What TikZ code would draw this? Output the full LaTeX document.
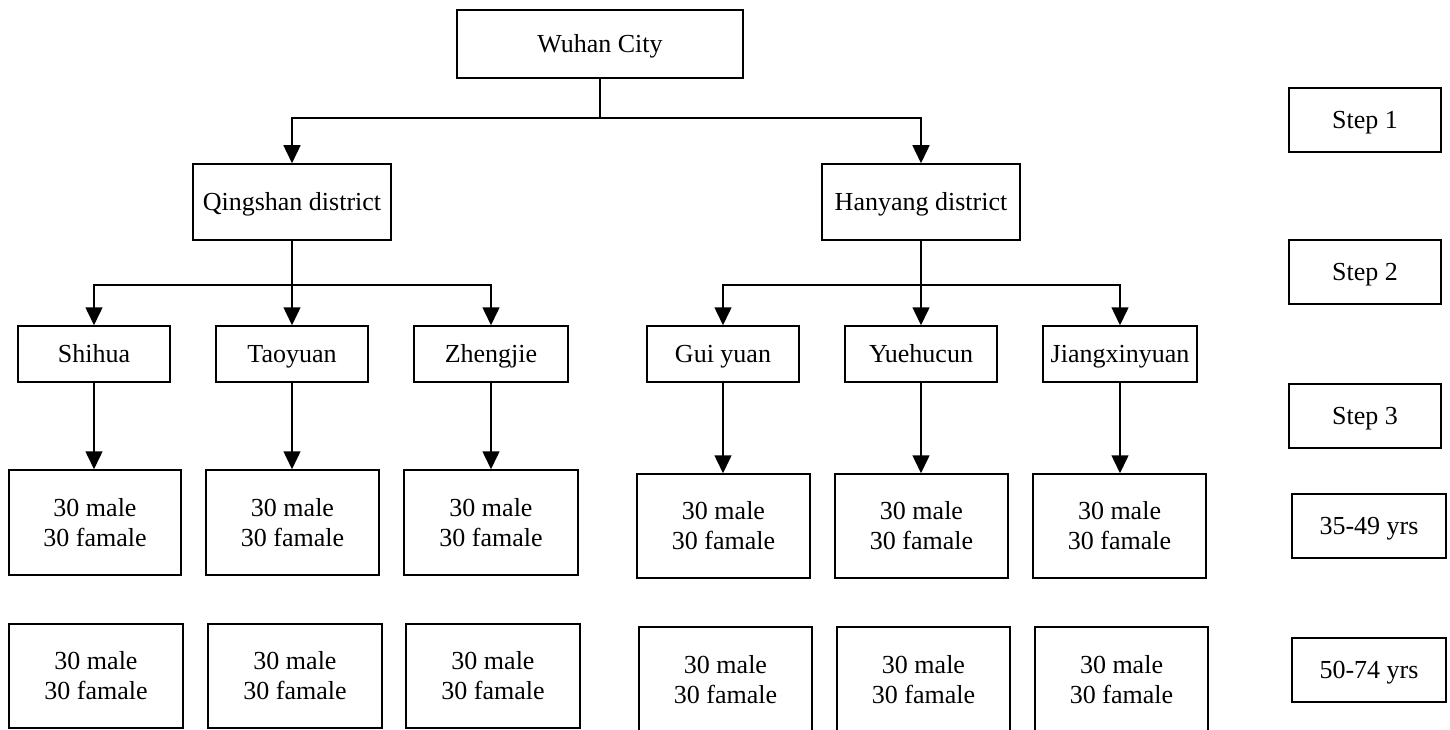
\documentclass[tikz,border=0pt]{standalone}
\usepackage{fontspec}
\setmainfont{Liberation Serif}
\usetikzlibrary{arrows.meta}
\begin{document}
\begin{tikzpicture}[x=1pt,y=-1pt,
  box/.style={draw, line width=1.5pt, inner sep=0pt, align=center,
    font=\fontsize{26}{30}\selectfont},
  one/.style={box, text height=19pt, text depth=2pt},
  two/.style={box},
  arr/.style={line width=1.5pt, -{Triangle[length=18pt,width=17pt]}},
  ln/.style={line width=1.5pt}]
\useasboundingbox (0,0) rectangle (1450,730);
% top levels
\node[one, minimum width=286pt, minimum height=68pt] (wuhan) at (600,44) {Wuhan City};
\node[one, minimum width=198pt, minimum height=76pt] (qing) at (292,202) {Qingshan district};
\node[one, minimum width=198pt, minimum height=76pt] (han) at (921,202) {Hanyang district};
% step labels
\node[one, minimum width=152pt, minimum height=64pt] (s1) at (1365,120) {Step 1};
\node[one, minimum width=152pt, minimum height=64pt] (s2) at (1365,272) {Step 2};
\node[one, minimum width=152pt, minimum height=64pt] (s3) at (1365,416) {Step 3};
\node[one, minimum width=154pt, minimum height=64pt] (a1) at (1369,526) {35-49 yrs};
\node[one, minimum width=154pt, minimum height=64pt] (a2) at (1369,670) {50-74 yrs};
% villages
\node[one, minimum width=152pt, minimum height=56pt] (v1) at (94,354) {Shihua};
\node[one, minimum width=152pt, minimum height=56pt] (v2) at (292,354) {Taoyuan};
\node[one, minimum width=154pt, minimum height=56pt] (v3) at (491,354) {Zhengjie};
\node[one, minimum width=152pt, minimum height=56pt] (v4) at (723,354) {Gui yuan};
\node[one, minimum width=152pt, minimum height=56pt] (v5) at (921,354) {Yuehucun};
\node[one, minimum width=154pt, minimum height=56pt] (v6) at (1120,354) {Jiangxinyuan};
% row 1
\node[two, minimum width=172pt, minimum height=105pt] (r11) at (95,522.5) {30 male\\30 famale};
\node[two, minimum width=173pt, minimum height=105pt] (r12) at (292.5,522.5) {30 male\\30 famale};
\node[two, minimum width=174pt, minimum height=105pt] (r13) at (491,522.5) {30 male\\30 famale};
\node[two, minimum width=173pt, minimum height=104pt] (r14) at (723.5,526) {30 male\\30 famale};
\node[two, minimum width=173pt, minimum height=104pt] (r15) at (921.5,526) {30 male\\30 famale};
\node[two, minimum width=173pt, minimum height=104pt] (r16) at (1119.5,526) {30 male\\30 famale};
% row 2
\node[two, minimum width=174pt, minimum height=104pt] (r21) at (96,676) {30 male\\30 famale};
\node[two, minimum width=174pt, minimum height=104pt] (r22) at (295,676) {30 male\\30 famale};
\node[two, minimum width=174pt, minimum height=104pt] (r23) at (493,676) {30 male\\30 famale};
\node[two, minimum width=173pt, minimum height=106pt] (r24) at (725.5,680) {30 male\\30 famale};
\node[two, minimum width=173pt, minimum height=106pt] (r25) at (923.5,680) {30 male\\30 famale};
\node[two, minimum width=173pt, minimum height=106pt] (r26) at (1121.5,680) {30 male\\30 famale};
% connectors
\coordinate (j0) at (600,118);
\draw[ln] (wuhan.south) -- (j0);
\draw[arr] (j0) -| (qing.north);
\draw[arr] (j0) -| (han.north);
\coordinate (jq) at (292,285);
\draw[ln] (qing.south) -- (jq);
\draw[arr] (jq) -| (v1.north);
\draw[arr] (jq) -- (v2.north);
\draw[arr] (jq) -| (v3.north);
\coordinate (jh) at (921,285);
\draw[ln] (han.south) -- (jh);
\draw[arr] (jh) -| (v4.north);
\draw[arr] (jh) -- (v5.north);
\draw[arr] (jh) -| (v6.north);
\draw[arr] (v1.south) -- (v1.south |- r11.north);
\draw[arr] (v2.south) -- (v2.south |- r12.north);
\draw[arr] (v3.south) -- (v3.south |- r13.north);
\draw[arr] (v4.south) -- (v4.south |- r14.north);
\draw[arr] (v5.south) -- (v5.south |- r15.north);
\draw[arr] (v6.south) -- (v6.south |- r16.north);
\end{tikzpicture}
\end{document}
